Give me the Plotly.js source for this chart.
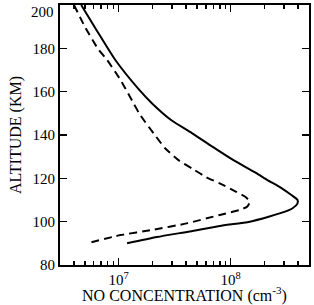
<!DOCTYPE html>
<html>
<head>
<meta charset="utf-8">
<script src="https://cdn.plot.ly/plotly-3.0.1.min.js"></script>
<style>
  html, body { margin: 0; padding: 0; background: #fff; }
  #chart { width: 314px; height: 305px; }
</style>
</head>
<body>
<div id="chart"></div>
<script>
// NO number density profiles (cm^-3) versus altitude (km)
const solidAlt = [200, 188.5, 174.6, 160.8, 154.8, 146.9, 140.9, 134.5, 128.5, 122.5, 119.2, 115.5, 112.3, 110, 108.2, 106.2, 104.5, 102.4, 100, 98, 95.5, 92.9, 90];
const solidNO  = [4.64e6, 6.34e6, 9.35e6, 1.53e7, 1.97e7, 2.94e7, 4.51e7, 6.92e7, 1.05e8, 1.68e8, 2.13e8, 2.84e8, 3.48e8, 3.95e8, 3.93e8, 3.57e8, 3.01e8, 2.22e8, 1.48e8, 7.98e7, 4.32e7, 2.2e7, 1.19e7];

const dashAlt = [200, 190, 180, 174.6, 165.4, 154.6, 149.2, 140.8, 133.9, 128.5, 124.2, 120.5, 117.7, 113.8, 111.5, 109.2, 107, 105.4, 103.1, 99.2, 96.2, 93.8, 90];
const dashNO  = [4.0e6, 5.0e6, 6.5e6, 7.9e6, 1.04e7, 1.36e7, 1.56e7, 2.05e7, 2.6e7, 3.4e7, 4.63e7, 6.08e7, 7.98e7, 1.12e8, 1.35e8, 1.48e8, 1.41e8, 1.2e8, 8.0e7, 4.05e7, 2.0e7, 1.04e7, 5.25e6];

const xMajor = [1e7, 1e8];
const xMajorText = ['10<sup>7</sup>', '10<sup>8</sup>'];
const xMinor = [4e6, 5e6, 6e6, 7e6, 8e6, 9e6, 2e7, 3e7, 4e7, 5e7, 6e7, 7e7, 8e7, 9e7, 2e8, 3e8, 4e8];
const yTicks = [80, 100, 120, 140, 160, 180, 200];
const yTickText = ['80', '100', '120', '140', '160', '180', ''];
const yTopLabel = '200';

const serif = 'Liberation Serif, Times New Roman, serif';

const traces = [
  { x: solidNO, y: solidAlt, mode: 'lines', line: { color: '#000', width: 2, shape: 'spline', smoothing: 0.6 }, hoverinfo: 'none' },
  { x: dashNO, y: dashAlt, mode: 'lines', line: { color: '#000', width: 2, dash: '8px,5px', shape: 'spline', smoothing: 0.5 }, hoverinfo: 'none' }
];

const layout = {
  width: 314, height: 305,
  margin: { l: 60, r: 5, t: 5, b: 40 },
  paper_bgcolor: '#fff', plot_bgcolor: '#fff',
  showlegend: false,
  font: { family: serif, color: '#000', size: 15 },
  xaxis: {
    type: 'log',
    range: [Math.log10(3e6), Math.log10(5e8)],
    tickmode: 'array', tickvals: xMajor, ticktext: xMajorText,
    ticks: 'inside', ticklen: 7, tickwidth: 1.5, tickcolor: '#000',
    minor: { tickvals: xMinor, ticks: 'inside', ticklen: 4, tickwidth: 1.5, tickcolor: '#000', showgrid: false },
    mirror: 'allticks', showline: true, linecolor: '#000', linewidth: 2,
    showgrid: false, zeroline: false,
    tickfont: { family: serif, size: 15 },
    title: { text: 'NO CONCENTRATION (cm<sup>-3</sup>)', font: { family: serif, size: 16 }, standoff: 9 }
  },
  yaxis: {
    range: [80, 200],
    tickmode: 'array', tickvals: yTicks, ticktext: yTickText,
    ticks: 'inside', ticklen: 7, tickwidth: 1.5, tickcolor: '#000',
    mirror: 'allticks', showline: true, linecolor: '#000', linewidth: 2,
    showgrid: false, zeroline: false,
    tickfont: { family: serif, size: 15 },
    title: { text: 'ALTITUDE (KM)', font: { family: serif, size: 16 }, standoff: 7 }
  },
  annotations: [
    { text: yTopLabel, xref: 'paper', yref: 'y', x: 0, y: 200, xanchor: 'right', yanchor: 'top',
      xshift: -4, yshift: 3, showarrow: false, font: { family: serif, size: 15, color: '#000' } }
  ]
};

Plotly.newPlot('chart', traces, layout, { displayModeBar: false, staticPlot: true });
</script>
</body>
</html>
